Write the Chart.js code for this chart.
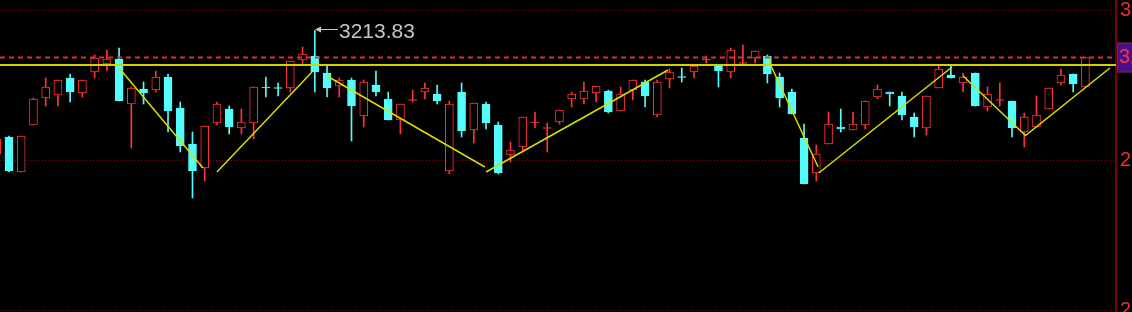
<!DOCTYPE html>
<html>
<head>
<meta charset="utf-8">
<script src="https://cdn.jsdelivr.net/npm/chart.js@4.4.1/dist/chart.umd.min.js"></script>
<style>
    html, body { margin: 0; padding: 0; background: #000; overflow: hidden; }
    #wrap { width: 1132px; height: 312px; position: relative; }
</style>
</head>
<body>
<div id="wrap"><canvas id="kline"></canvas></div>
<script>
// daily candles, left to right
const opens = [2967, 3001, 2931, 3025, 3079, 3085, 3119, 3089, 3131, 3147,
    3157, 3067, 3097, 3095, 3121, 3059, 2987, 2939, 3029, 3057,
    3019, 3029, 3101, 3100, 3099, 3155, 3163, 3129, 3103, 3115,
    3043, 3105, 3077, 3035, 3074, 3091, 3087, 2933, 3091, 3015,
    3067, 3025, 2965, 2981, 3029, 3018, 3031, 3077, 3077, 3089,
    3093, 3053, 3095, 3111, 3045, 3117, 3122, 3131, 3155, 3145,
    3131, 3148, 3159, 3163, 3121, 3091, 2999, 2929, 2987, 3021,
    3015, 3025, 3081, 3091, 3083, 3041, 3019, 3099, 3125, 3109,
    3129, 3061, 3074, 3073, 3011, 3021, 3057, 3109, 3127, 3101];
const closes = [2997, 2933, 3003, 3077, 3101, 3115, 3091, 3115, 3159, 3157,
    3073, 3099, 3089, 3121, 3053, 2983, 2933, 3023, 3067, 3021,
    3031, 3101, 3099, 3098, 3153, 3167, 3131, 3099, 3115, 3063,
    3111, 3091, 3035, 3067, 3076, 3099, 3073, 3067, 3013, 3069,
    3029, 2929, 2975, 3041, 3031, 3020, 3055, 3087, 3093, 3103,
    3051, 3087, 3115, 3083, 3111, 3131, 3120, 3143, 3157, 3133,
    3175, 3150, 3173, 3127, 3079, 3047, 2907, 2967, 3027, 3017,
    3027, 3073, 3097, 3087, 3045, 3021, 3083, 3137, 3119, 3121,
    3063, 3087, 3076, 3019, 3041, 3045, 3099, 3125, 3107, 3160];
const highs = [3003, 3003, 3003, 3079, 3119, 3115, 3127, 3115, 3165, 3175,
    3179, 3101, 3111, 3133, 3127, 3071, 3011, 3023, 3071, 3063,
    3057, 3101, 3121, 3109, 3153, 3181, 3213.83, 3143, 3119, 3119,
    3115, 3133, 3091, 3067, 3095, 3109, 3105, 3073, 3109, 3069,
    3071, 3031, 2991, 3041, 3051, 3029, 3055, 3091, 3111, 3103,
    3095, 3101, 3115, 3115, 3115, 3137, 3139, 3143, 3163, 3145,
    3179, 3185, 3173, 3165, 3129, 3097, 3027, 2985, 3051, 3057,
    3051, 3073, 3105, 3091, 3091, 3049, 3083, 3145, 3145, 3129,
    3129, 3101, 3109, 3073, 3049, 3083, 3099, 3137, 3127, 3160];
const lows = [2963, 2931, 2931, 3025, 3063, 3063, 3071, 3081, 3119, 3133,
    3073, 2979, 3067, 3091, 3011, 2971, 2879, 2913, 3025, 3007,
    3007, 2997, 3081, 3083, 3091, 3147, 3091, 3081, 3081, 2993,
    3021, 3083, 3035, 3007, 3071, 3077, 3067, 2927, 3001, 2989,
    3017, 2927, 2951, 2971, 3019, 2971, 3027, 3061, 3067, 3071,
    3049, 3053, 3075, 3061, 3041, 3099, 3111, 3119, 3149, 3101,
    3119, 3147, 3149, 3109, 3061, 3047, 2907, 2913, 2987, 3011,
    3015, 3017, 3077, 3063, 3035, 3001, 3005, 3099, 3119, 3091,
    3063, 3053, 3063, 3001, 2981, 3021, 3057, 3105, 3091, 3101];

// zigzag trend line (null = break between legs)
const zigX = [10.0, 16.86, 17.4, 18.0, 25.77, 26.4, 27.0, 39.9, 39.95, 40.0, 54.88, 59,
    63.0, 67.15, 67.15, 67.2, 78.1, 78.5, 79.0, 84.1, 91.0];
const zigY = [3139, 2939, null, 2931, 3131, null, 3123, 2941, null, 2931, 3135, null,
    3159, 2941, null, 2929, 3141, null, 3123, 3004, 3139];

const yTicks = [3255, 2955, 2655];
const levelLine = 3145;
const lastPrice = closes[closes.length - 1];
const peakIndex = 26;
const peakLabel = "3213.83";

const UP = "#ff3434";
const DOWN = "#54fcfc";
const X_MIN = 0.264, X_MAX = 91.5;

const idx = opens.map((_, i) => i);
const isUp = i => closes[i] >= opens[i];
const candleColor = idx.map(i => isUp(i) ? UP : DOWN);
const bodyFill = idx.map(i => {
    if (!isUp(i)) return DOWN;
    return Math.abs(closes[i] - opens[i]) <= 4 ? UP : "#000";
});

const peakMarker = {
    id: "peakMarker",
    afterDatasetsDraw(chart) {
        const { ctx, scales } = chart;
        const px = Math.round(scales.x.getPixelForValue(peakIndex));
        const py = Math.round(scales.y.getPixelForValue(highs[peakIndex]));
        ctx.save();
        ctx.strokeStyle = "#c4c8cc";
        ctx.fillStyle = "#c4c8cc";
        ctx.lineWidth = 1;
        ctx.beginPath();
        ctx.moveTo(px + 2, py - 1.5);
        ctx.lineTo(px + 23, py - 1.5);
        ctx.stroke();
        ctx.beginPath();
        ctx.moveTo(px, py - 1.5);
        ctx.lineTo(px + 6, py - 4.5);
        ctx.lineTo(px + 6, py + 1.5);
        ctx.closePath();
        ctx.fill();
        ctx.font = '21px "Liberation Sans", Arial, sans-serif';
        ctx.textBaseline = "alphabetic";
        ctx.fillStyle = "#bfc6cc";
        ctx.fillText(peakLabel, px + 24, py + 7);
        ctx.restore();
    }
};

const priceTag = {
    id: "priceTag",
    afterDraw(chart) {
        const { ctx, chartArea, scales } = chart;
        const py = scales.y.getPixelForValue(lastPrice);
        const left = chartArea.right + 1;
        ctx.save();
        ctx.fillStyle = "#4a108a";
        ctx.fillRect(left, py - 15, chart.width - left, 30);
        ctx.strokeStyle = "#8a1c2a";
        ctx.lineWidth = 1;
        ctx.strokeRect(left + 0.5, py - 14.5, chart.width - left, 29);
        ctx.font = '20px "Liberation Sans", Arial, sans-serif';
        ctx.textBaseline = "middle";
        ctx.fillStyle = "#ff3434";
        ctx.fillText(lastPrice.toFixed(2), left + 2, py);
        ctx.restore();
    }
};

new Chart(document.getElementById("kline"), {
    type: "bar",
    data: {
        datasets: [{
            type: "line",
            data: zigX.map((x, i) => ({ x: x, y: zigY[i] })),
            borderColor: "#dcdc00",
            borderWidth: 1.5,
            pointRadius: 0,
            spanGaps: false,
            order: 1
        }, {
            type: "line",
            data: [{ x: X_MIN, y: levelLine }, { x: X_MAX, y: levelLine }],
            borderColor: "#d2d200",
            borderWidth: 2,
            pointRadius: 0,
            order: 2
        }, {
            type: "line",
            data: [{ x: X_MIN, y: lastPrice }, { x: X_MAX, y: lastPrice }],
            borderColor: "#d83030",
            borderWidth: 2,
            borderDash: [5, 4],
            pointRadius: 0,
            order: 2
        }, {
            data: idx.map(i => ({ x: i, y: [opens[i], closes[i]] })),
            backgroundColor: bodyFill,
            borderColor: candleColor,
            borderWidth: 1,
            borderSkipped: false,
            barThickness: 8,
            grouped: false,
            order: 3
        }, {
            data: idx.map(i => ({ x: i, y: [lows[i], highs[i]] })),
            backgroundColor: candleColor,
            borderWidth: 0,
            barThickness: 1,
            grouped: false,
            order: 4
        }]
    },
    options: {
        responsive: true,
        maintainAspectRatio: false,
        animation: false,
        devicePixelRatio: 1,
        layout: { padding: 0, autoPadding: false },
        plugins: {
            legend: { display: false },
            tooltip: { enabled: false }
        },
        scales: {
            x: {
                type: "linear",
                min: X_MIN,
                max: X_MAX,
                offset: false,
                display: false
            },
            y: {
                position: "right",
                min: 2651,
                max: 3275,
                afterFit: function (scale) {
                    scale.width = 16;
                    scale.paddingTop = 0;
                    scale.paddingBottom = 0;
                    scale.paddingLeft = 0;
                    scale.paddingRight = 0;
                },
                afterBuildTicks: function (scale) {
                    scale.ticks = yTicks.map(v => ({ value: v }));
                },
                grid: {
                    color: "#960000",
                    lineWidth: 1,
                    drawTicks: false
                },
                border: {
                    display: true,
                    color: "#7a0000",
                    width: 2,
                    dash: [1, 2]
                },
                ticks: {
                    color: "#e83030",
                    padding: 4,
                    autoSkip: false,
                    font: { family: "Liberation Sans", size: 20 },
                    callback: function (value) {
                        return String(value);
                    }
                }
            }
        }
    },
    plugins: [peakMarker, priceTag]
});
</script>
</body>
</html>
